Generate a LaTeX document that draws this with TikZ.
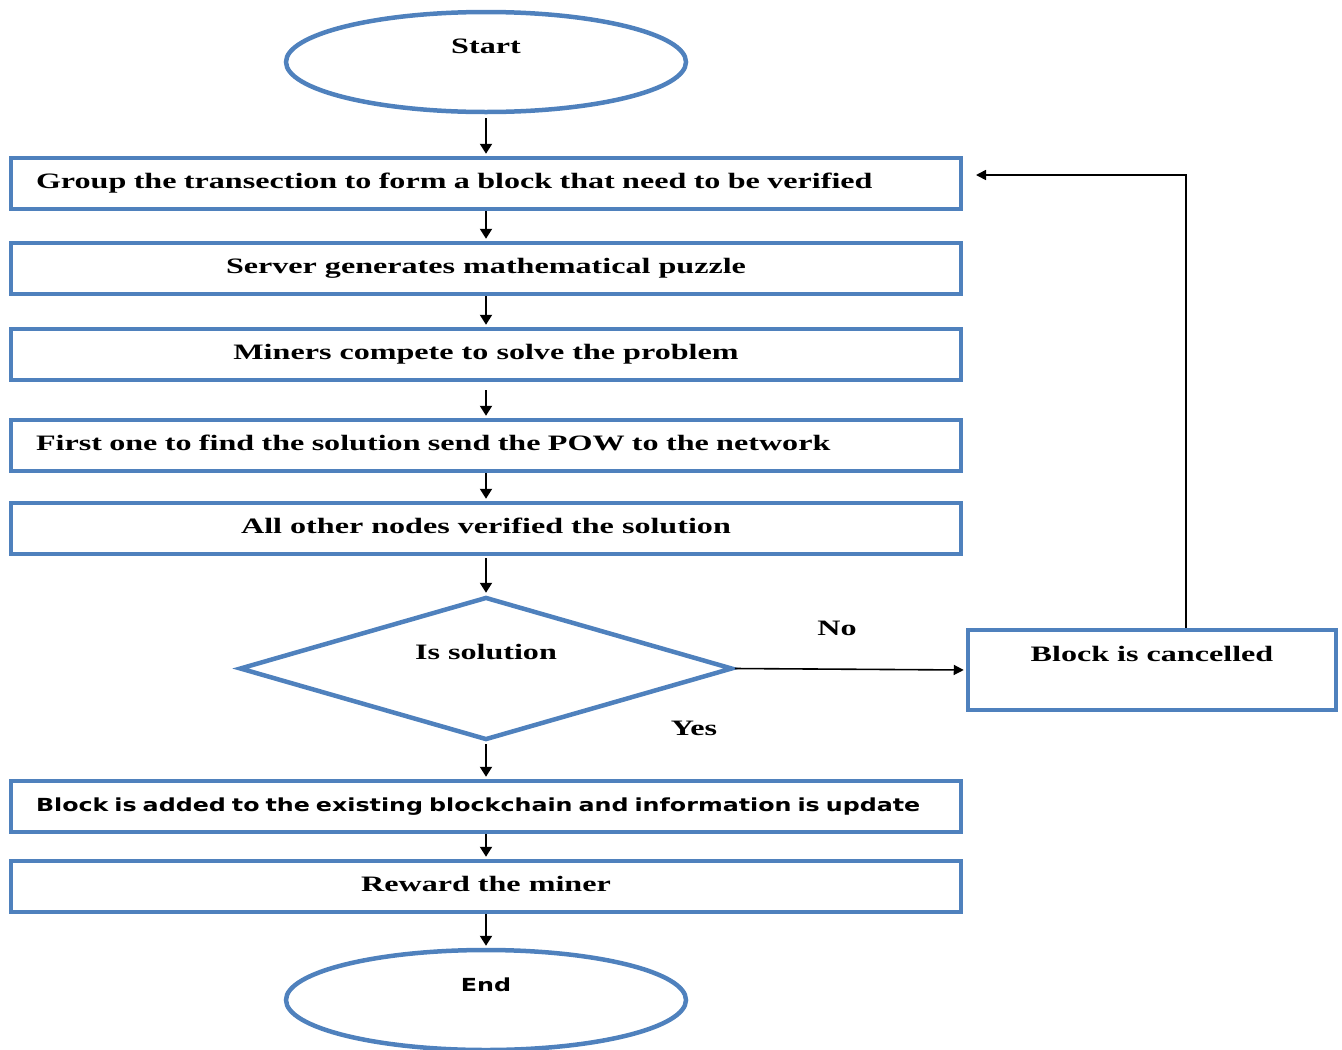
\documentclass[tikz,border=0pt]{standalone}
\usepackage{fontspec}
\setmainfont{Liberation Serif}
\newfontfamily\stretchserif[FakeStretch=1.46]{Liberation Serif}
\newfontfamily\stretchsans[FakeStretch=1.32]{DejaVu Sans}
\usetikzlibrary{shapes.geometric,arrows.meta,calc}
\definecolor{boxblue}{RGB}{79,129,189}
\newcommand{\mainfnt}{\stretchserif\bfseries\fontsize{22}{26}\selectfont}
\newcommand{\sansfnt}{\stretchsans\bfseries\fontsize{18}{22}\selectfont}
\begin{document}
\begin{tikzpicture}[x=1pt,y=-1pt,
  blueline/.style={draw=boxblue, line width=4.5pt},
  procbox/.style={blueline, rectangle, minimum width=950pt, minimum height=51pt,
    inner sep=0pt, font=\mainfnt, text height=15pt, text depth=5pt},
  leftbox/.style={procbox, text width=900pt, align=left},
  termnode/.style={blueline, ellipse, minimum width=400pt, minimum height=100pt,
    inner sep=0pt, text height=15pt, text depth=32pt},
  decnode/.style={blueline, diamond, aspect=3.45, minimum width=493pt, minimum height=143pt,
    inner sep=0pt, font=\mainfnt, text height=15pt, text depth=33pt},
  cancelbox/.style={blueline, rectangle, minimum width=368pt, minimum height=80pt,
    inner sep=0pt, font=\mainfnt, text height=15pt, text depth=33pt},
  arr/.style={draw=black, line width=2pt, -{Triangle[length=10pt,width=12pt]}},
  thinarr/.style={draw=black, line width=1.6pt, -{Triangle[length=10pt,width=10pt]}},
  lbl/.style={font=\mainfnt, inner sep=0pt}
]
\useasboundingbox (0,0) rectangle (1342,1050);

\node[termnode, font=\mainfnt] (start) at (486,62) {Start};
\node[leftbox] (b1) at (486,183.5) {Group the transection to form a block that need to be verified};
\node[procbox] (b2) at (486,268.5) {Server generates mathematical puzzle};
\node[procbox] (b3) at (486,354.5) {Miners compete to solve the problem};
\node[leftbox] (b4) at (486,445.5) {First one to find the solution send the POW to the network};
\node[procbox] (b5) at (486,528.5) {All other nodes verified the solution};
\node[decnode] (dec) at (486,668.5) {Is solution};
\node[cancelbox] (cancel) at (1152,670) {Block is cancelled};
\node[leftbox, font=\sansfnt] (b6) at (486,806.5) {Block is added to the existing blockchain and information is update};
\node[procbox] (b7) at (486,886.5) {Reward the miner};
\node[termnode, font=\sansfnt] (end) at (486,1000) {End};

\node[lbl] (no) at (837,628) {No};
\node[lbl] (yes) at (694,728) {Yes};

\coordinate (fbturn) at (1186,175);
\coordinate (fbend) at (976,175);

\draw[arr, shorten <=4pt, shorten >=2pt] (start) -- (b1);
\draw[arr, shorten >=2pt] (b1) -- (b2);
\draw[arr, shorten >=2pt] (b2) -- (b3);
\draw[arr, shorten <=8pt, shorten >=2pt] (b3) -- (b4);
\draw[arr, shorten >=2pt] (b4) -- (b5);
\draw[arr, shorten <=2pt, shorten >=2pt] (b5) -- (dec);
\draw[arr, shorten <=2pt, shorten >=2pt] (dec) -- (b6);
\draw[arr, shorten >=2pt] (b6) -- (b7);
\draw[arr, shorten >=2pt] (b7) -- (end);
\draw[thinarr, shorten >=2pt] (dec.east) -- (cancel.west);
\draw[thinarr] (cancel.north -| fbturn) -- (fbturn) -- (fbend);
\end{tikzpicture}
\end{document}
